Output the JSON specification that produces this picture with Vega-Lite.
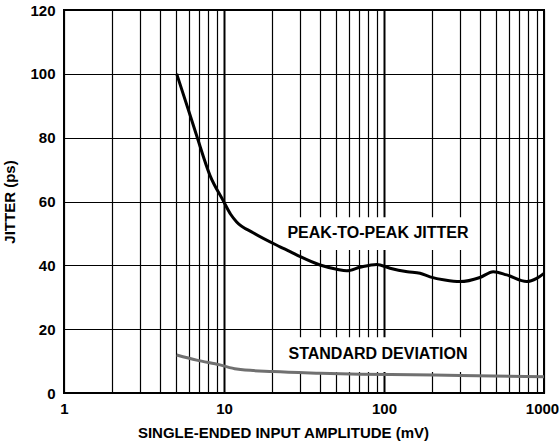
{
  "$schema": "https://vega.github.io/schema/vega-lite/v6.json",
  "width": 480,
  "height": 383,
  "autosize": "none",
  "padding": {"left": 64, "top": 10, "right": 15, "bottom": 53},
  "background": "white",
  "config": {
    "view": {"stroke": "black", "strokeWidth": 2},
    "font": "Liberation Sans"
  },
  "datasets": {
    "peak": [
      {"x": 5.06, "y": 100}, {"x": 6.0, "y": 88.6}, {"x": 6.75, "y": 80.6}, {"x": 8.17, "y": 68.2},
      {"x": 9.9, "y": 60.2}, {"x": 11.0, "y": 56.0},
      {"x": 12.0, "y": 53.6}, {"x": 15.2, "y": 50.2}, {"x": 22.4, "y": 45.8}, {"x": 25.9, "y": 44.3},
      {"x": 30, "y": 42.7}, {"x": 39.8, "y": 40.1}, {"x": 50.6, "y": 38.8}, {"x": 58.5, "y": 38.3},
      {"x": 70.8, "y": 39.4}, {"x": 90, "y": 40.3}, {"x": 109, "y": 39.1}, {"x": 140, "y": 38.0},
      {"x": 168, "y": 37.5}, {"x": 194, "y": 36.4}, {"x": 240, "y": 35.4}, {"x": 298, "y": 34.9},
      {"x": 398, "y": 36.2}, {"x": 482, "y": 38.0}, {"x": 585, "y": 37.0}, {"x": 779, "y": 34.9},
      {"x": 900, "y": 35.9}, {"x": 1000, "y": 37.5}
    ],
    "std": [
      {"x": 5.06, "y": 11.9}, {"x": 6.75, "y": 10.3}, {"x": 9.44, "y": 8.8}, {"x": 12, "y": 7.5},
      {"x": 20.3, "y": 6.7}, {"x": 40, "y": 6.2}, {"x": 71, "y": 5.9}, {"x": 150, "y": 5.7},
      {"x": 300, "y": 5.5}, {"x": 1000, "y": 5.1}
    ],
    "boxes": [
      {"x1": 22.4, "x2": 370, "y1": 44.8, "y2": 55.1},
      {"x1": 22.4, "x2": 370, "y1": 6.6, "y2": 17.5}
    ],
    "labels": [
      {"x": 91.7, "y": 50.1, "text": "PEAK-TO-PEAK JITTER"},
      {"x": 91.7, "y": 12.2, "text": "STANDARD DEVIATION"}
    ]
  },
  "layer": [
    {
      "data": {"name": "boxes"},
      "mark": {"type": "rect", "fill": "white", "stroke": null},
      "encoding": {
        "x": {
          "field": "x1", "type": "quantitative",
          "scale": {"type": "log", "domain": [1, 1000], "nice": false},
          "axis": {
            "values": [1,2,3,4,5,6,7,8,9,10,20,30,40,50,60,70,80,90,100,200,300,400,500,600,700,800,900,1000],
            "labelExpr": "indexof([1,10,100,1000], datum.value) >= 0 ? datum.label : ''",
            "format": "d",
            "title": "SINGLE-ENDED INPUT AMPLITUDE (mV)",
            "grid": true,
            "gridColor": "black",
            "gridOpacity": 1,
            "gridWidth": {"condition": {"test": "indexof([10,100], datum.value) >= 0", "value": 2}, "value": 1.2},
            "domain": false,
            "ticks": false,
            "labelPadding": 8,
            "labelOffset": {"condition": {"test": "datum.value == 1000", "value": -2}, "value": 0},
            "labelFont": "Liberation Sans",
            "labelFontWeight": "bold",
            "labelFontSize": 15,
            "labelColor": "black",
            "labelFlush": false,
            "labelOverlap": false,
            "titleFont": "Liberation Sans",
            "titleFontWeight": "bold",
            "titleFontSize": 15,
            "titleColor": "black",
            "titlePadding": 9,
            "titleX": 219
          }
        },
        "x2": {"field": "x2"},
        "y": {
          "field": "y1", "type": "quantitative",
          "scale": {"domain": [0, 120], "nice": false},
          "axis": {
            "values": [0, 20, 40, 60, 80, 100, 120],
            "title": "JITTER (ps)",
            "grid": true,
            "gridColor": "black",
            "gridOpacity": 1,
            "gridWidth": 1.2,
            "domain": false,
            "ticks": false,
            "labelPadding": 9,
            "labelFont": "Liberation Sans",
            "labelFontWeight": "bold",
            "labelFontSize": 15,
            "labelColor": "black",
            "titleFont": "Liberation Sans",
            "titleFontWeight": "bold",
            "titleFontSize": 15,
            "titleColor": "black",
            "titlePadding": 12
          }
        },
        "y2": {"field": "y2"}
      }
    },
    {
      "data": {"name": "std"},
      "mark": {"type": "line", "color": "#707070", "strokeWidth": 3, "interpolate": "monotone"},
      "encoding": {
        "x": {"field": "x", "type": "quantitative"},
        "y": {"field": "y", "type": "quantitative"}
      }
    },
    {
      "data": {"name": "peak"},
      "mark": {"type": "line", "color": "black", "strokeWidth": 3, "interpolate": "monotone"},
      "encoding": {
        "x": {"field": "x", "type": "quantitative"},
        "y": {"field": "y", "type": "quantitative"}
      }
    },
    {
      "data": {"name": "labels"},
      "mark": {"type": "text", "font": "Liberation Sans", "fontWeight": "bold", "fontSize": 16, "color": "black", "align": "center", "baseline": "middle"},
      "encoding": {
        "x": {"field": "x", "type": "quantitative"},
        "y": {"field": "y", "type": "quantitative"},
        "text": {"field": "text"}
      }
    }
  ]
}
